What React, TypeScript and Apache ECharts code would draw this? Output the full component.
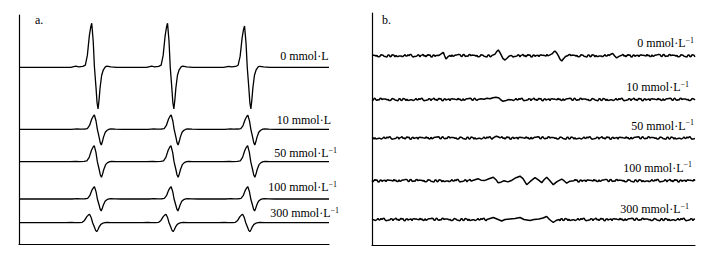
import React, { useEffect, useRef } from "react";
import * as echarts from "echarts";

// ---------- Panel a: ESR spectra (three-line derivative signals) ----------
// normalized derivative line shape (dx in field units)
const SHAPE_DX = [-24, -19, -16, -12, -9.5, -7.5, -5.5, -4, -3.1, -1.6, -0.4, 1.2, 2.2, 3.2, 4.2, 5.2, 6.8, 8.5, 10.5, 12, 16, 22];
const SHAPE_V = [0, 0.025, 0.01, 0.02, 0.05, 0.27, 0.72, 0.93, 1, 0.58, 0, -0.5, -0.85, -1, -0.78, -0.5, -0.19, -0.06, 0.01, 0.025, 0.01, 0];

const A_LABELS = ["0 mmol·L", "10 mmol·L", "50 mmol·L", "100 mmol·L", "300 mmol·L"];
const A_SUP = [false, false, true, true, true];
const A_BASE = [176.7, 114.7, 82.3, 45, 21.3];
const A_CENTERS = [
  [75.85, 151.65, 228.65],
  [78.8, 155.6, 232.3],
  [78.8, 155.5, 232.2],
  [78.8, 155.5, 232.2],
  [74.1, 150.5, 227.2],
];
const A_POS = [
  [44, 44, 41.3],
  [14.3, 14.3, 14],
  [16, 16, 16],
  [12.3, 12.3, 12.3],
  [8.4, 8.4, 8.4],
];
const A_NEG = [
  [41.7, 41.7, 41.7],
  [15.7, 15.7, 15.7],
  [15.6, 15.6, 15.6],
  [12, 12, 12],
  [9, 9, 9],
];
const A_WIDTH = [1, 1.1, 1.15, 1.07, 1.14];
const A_X_MAX = 310;
const A_Y_MAX = 229;

// ---------- Panel b: noisy spectra ----------
const B_LABELS = ["0 mmol·L", "10 mmol·L", "50 mmol·L", "100 mmol·L", "300 mmol·L"];
const B_BASE = [189.3, 145.5, 107, 64.3, 25.5];
const B_SHIFT = [0, 23, 47, 71, 89];
const NOISE = [
  0.6, -0.8, 1.1, -0.3, 0.2, -1.2, 0.9, 0.4, -0.6, 1.3, -0.9, 0.1, 0.7, -1.1, 0.5, -0.2, 1.0, -0.7, -0.4, 0.8,
  -1.3, 0.3, 0.9, -0.5, 0.0, 1.2, -1.0, 0.4, -0.3, 0.6, -0.9, 1.1, -0.1, -0.8, 0.7, 0.2, -1.2, 1.0, -0.4, 0.5,
  0.9, -0.6, -1.0, 0.3, 1.2, -0.2, -0.7, 0.8, 0.1, -1.1, 0.6, -0.3, 1.0, -0.9, 0.4, 0.2, -0.5, 1.3, -0.8, 0.0,
  0.7, -1.2, 0.5, 0.9, -0.4, -0.1, 1.1, -0.7, 0.3, -1.0, 0.8, 0.2, -0.6, 1.2, -0.3, -0.9, 0.6, 0.4, -1.1, 1.0,
  -0.2, 0.5, -0.8, 0.9, -0.5, 0.1, 1.2, -1.3, 0.7, -0.4, 0.3, -0.7, 1.1, 0.0, -0.9, 0.8, -0.2, 0.6, -1.0, 0.4,
];
const B_FEATURES: number[][][][] = [
  [
    [[67, 0.3], [69.5, 2], [71.3, 3.4], [72.6, 0], [74, -3.3], [76, -1], [78, 0.2]],
    [[120, 0.3], [123, 1.5], [125, 4.5], [126.3, 5.7], [128, 3], [129.5, 0], [131, -3], [133, -4.3], [135, -2.5], [137, -0.5], [139, 0.3]],
    [[177, 0.3], [180, 1.8], [182, 4], [183, 4.7], [184.5, 3], [186.3, 0], [188, -3.5], [189.7, -5.3], [191.5, -3], [193.5, -0.8], [196, 0.2]],
    [[237, 0.2], [239, 1.5], [240.7, 2.3], [242.5, 0], [244.7, -2.3], [246.5, -1], [248.5, 0]],
  ],
  [
    [[106, 0], [109, 0.8], [112, 0.2], [115, 1.2], [118, 0.7], [121, 1.8], [124, 2.2], [127, 1.5], [129, -0.5], [131, -1.8], [134, -1], [137, 0]],
  ],
  [
    [[121, 0], [123, 1.2], [124.5, 1.8], [126, 1.2], [128, 0.3]],
  ],
  [
    [[100, 0], [103, 1], [106, 2], [109, 0.5], [113, 0.3], [117, 2], [121.3, 3.5], [124, 1], [126, -2], [129, -1.5], [132, 0], [136, -1.2], [140, 0.5], [144, 3], [148, 4.5], [151, 2], [154.7, -4], [158, -1], [163, 3], [166, 1], [169.7, -2], [172, 1], [174.7, 3.5], [177.5, 0.5], [181.3, -4], [185, -1], [189.7, 1.5], [192, 0], [194.7, -2.5], [198, -0.5], [202, 0]],
  ],
  [
    [[115, 0], [118, 1], [121.3, 2], [125, 0.5], [129.7, -1.5], [133, 0], [138, 0.5], [143, 1], [148, 2], [152, 0], [158, -1], [162, 0], [167, 0.5], [171, 1.5], [174.7, 3], [177.5, 0], [181.3, -3], [184, -1], [187, 0]],
  ],
];
const B_X_MAX = 323;
const B_Y_MAX = 232;

const FONT = '"Liberation Serif", "Times New Roman", serif';
const A_LABEL_POS = [[328.5, 56], [331, 119.5], [337, 153], [337, 187], [339, 213.3]];
const B_LABEL_POS = [[694, 43.3], [689, 87.3], [694, 125.5], [692, 167.7], [689, 209.3]];

function buildA(k: number) {
  const base = A_BASE[k];
  const pts: number[][] = [[0, base]];
  A_CENTERS[k].forEach((c, j) => {
    SHAPE_DX.forEach((dx, m) => {
      const v = SHAPE_V[m];
      const amp = v >= 0 ? A_POS[k][j] : A_NEG[k][j];
      pts.push([c + dx * A_WIDTH[k], base + v * amp]);
    });
  });
  pts.push([A_X_MAX, base]);
  return pts;
}

function buildB(k: number) {
  const base = B_BASE[k];
  const segs = B_FEATURES[k];
  const pts: number[][] = [];
  for (let i = 0; i <= B_X_MAX; i++) {
    const x = i;
    const inSeg = segs.some((s) => x >= s[0][0] && x <= s[s.length - 1][0]);
    if (!inSeg) pts.push([x, base + NOISE[(i * 7 + B_SHIFT[k]) % NOISE.length]]);
  }
  segs.forEach((s) => s.forEach((p) => pts.push([p[0], base + p[1]])));
  pts.sort((a, b) => a[0] - b[0]);
  return pts;
}

function axis(gridIndex: number, max: number) {
  return {
    type: "value",
    gridIndex,
    min: 0,
    max,
    axisLine: { show: true, onZero: false, lineStyle: { color: "#000", width: 1.2 } },
    axisTick: { show: false },
    axisLabel: { show: false },
    splitLine: { show: false },
  };
}

function label(text: string, sup: boolean, pos: number[]) {
  return {
    type: "text",
    x: pos[0],
    y: pos[1],
    silent: true,
    style: {
      text: sup ? `{m|${text}}{s|−1}` : `{m|${text}}`,
      rich: {
        m: { fontSize: 12, fontFamily: FONT, fill: "#000" },
        s: { fontSize: 8, fontFamily: FONT, fill: "#000", padding: [0, 0, 6, 0] },
      },
      fill: "#000",
      font: `12px ${FONT}`,
      textAlign: "right",
      textVerticalAlign: "middle",
      align: "right",
      verticalAlign: "middle",
    },
  };
}

export default function App() {
  const ref = useRef<HTMLDivElement>(null);
  useEffect(() => {
    const chart = echarts.init(ref.current!, null, { renderer: "svg" });
    const series: any[] = [];
    A_BASE.forEach((_, k) =>
      series.push({
        type: "line",
        xAxisIndex: 0,
        yAxisIndex: 0,
        data: buildA(k),
        showSymbol: false,
        symbol: "none",
        silent: true,
        lineStyle: { color: "#000", width: 1.3 },
      })
    );
    B_BASE.forEach((_, k) =>
      series.push({
        type: "line",
        xAxisIndex: 1,
        yAxisIndex: 1,
        data: buildB(k),
        showSymbol: false,
        symbol: "none",
        silent: true,
        lineStyle: { color: "#000", width: 1.5 },
      })
    );
    const graphic: any[] = [];
    A_LABELS.forEach((t, k) => graphic.push(label(t, A_SUP[k], A_LABEL_POS[k])));
    B_LABELS.forEach((t, k) => graphic.push(label(t, true, B_LABEL_POS[k])));
    graphic.push({
      type: "text",
      x: 35,
      y: 19.5,
      silent: true,
      style: { text: "a.", font: `12px ${FONT}`, fill: "#000", textVerticalAlign: "middle", verticalAlign: "middle" },
    });
    graphic.push({
      type: "text",
      x: 382,
      y: 19.5,
      silent: true,
      style: { text: "b.", font: `12px ${FONT}`, fill: "#000", textVerticalAlign: "middle", verticalAlign: "middle" },
    });
    chart.setOption({
      animation: false,
      backgroundColor: "#fff",
      grid: [
        { left: 19, top: 15, width: A_X_MAX, height: A_Y_MAX },
        { left: 372, top: 13, width: B_X_MAX, height: B_Y_MAX },
      ],
      xAxis: [axis(0, A_X_MAX), axis(1, B_X_MAX)],
      yAxis: [axis(0, A_Y_MAX), axis(1, B_Y_MAX)],
      series,
      graphic,
    });
    return () => chart.dispose();
  }, []);
  return (
    <div
      ref={ref}
      style={{ position: "fixed", left: 0, top: 0, width: 707, height: 258, background: "#fff" }}
    />
  );
}
